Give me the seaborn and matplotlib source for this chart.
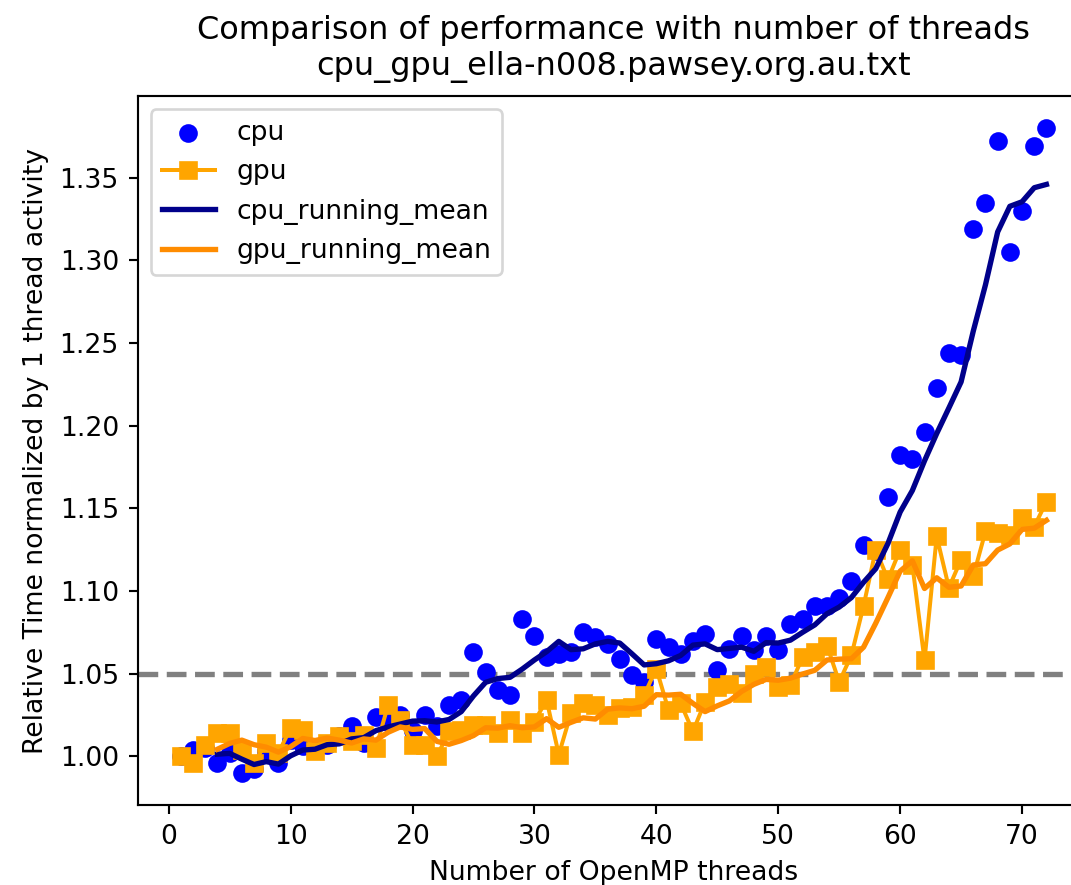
import matplotlib
matplotlib.use("Agg")
import matplotlib.pyplot as plt
import seaborn as sns
import numpy as np
import pandas as pd

threads = list(range(1, 73))

cpu = [1.000, 1.004, 1.005, 0.996, 1.002, 0.990, 0.992, 1.003, 0.996, 1.010,
       1.006, 1.005, 1.007, 1.012, 1.018, 1.008, 1.024, 1.021, 1.025, 1.015,
       1.025, 1.018, 1.031, 1.034, 1.063, 1.051, 1.040, 1.037, 1.083, 1.073,
       1.060, 1.062, 1.063, 1.075, 1.072, 1.068, 1.059, 1.049, 1.045, 1.071,
       1.066, 1.062, 1.070, 1.074, 1.052, 1.065, 1.073, 1.064, 1.073, 1.064,
       1.080, 1.083, 1.091, 1.091, 1.096, 1.106, 1.128, 1.124, 1.157, 1.182,
       1.180, 1.196, 1.223, 1.244, 1.243, 1.319, 1.335, 1.372, 1.305, 1.330,
       1.369, 1.380]

gpu = [1.000, 0.996, 1.007, 1.014, 1.014, 1.004, 0.996, 1.008, 1.002, 1.017,
       1.016, 1.003, 1.008, 1.012, 1.009, 1.013, 1.005, 1.031, 1.022, 1.007,
       1.007, 1.000, 1.015, 1.016, 1.019, 1.019, 1.014, 1.022, 1.014, 1.021,
       1.034, 1.001, 1.026, 1.032, 1.031, 1.025, 1.029, 1.030, 1.037, 1.053,
       1.028, 1.032, 1.015, 1.033, 1.042, 1.044, 1.038, 1.050, 1.054, 1.042,
       1.043, 1.060, 1.063, 1.067, 1.045, 1.061, 1.091, 1.125, 1.107, 1.125,
       1.116, 1.058, 1.133, 1.102, 1.119, 1.109, 1.136, 1.135, 1.134, 1.144,
       1.139, 1.154]

reference_level = 1.05
running_window = 4

title_text = "Comparison of performance with number of threads\ncpu_gpu_ella-n008.pawsey.org.au.txt"
xlabel_text = "Number of OpenMP threads"
ylabel_text = "Relative Time normalized by 1 thread activity"

df = pd.DataFrame({"threads": threads, "cpu": cpu, "gpu": gpu})
df["cpu_running_mean"] = df["cpu"].rolling(running_window).mean()
df["gpu_running_mean"] = df["gpu"].rolling(running_window).mean()

W, H, DPI = 1071, 885, 192
fig = plt.figure(figsize=(W / DPI, H / DPI), dpi=DPI)
left, right, top, bottom = 137.6, 1089.7, 96, 805
ax = fig.add_axes([left / W, (H - bottom) / H, (right - left) / W, (bottom - top) / H])

sns.scatterplot(data=df, x="threads", y="cpu", ax=ax, color="blue", s=36,
                edgecolor="blue", linewidth=1, label="cpu", zorder=3)
sns.lineplot(data=df, x="threads", y="gpu", ax=ax, color="orange", marker="s",
             markersize=6, markeredgecolor="orange", markeredgewidth=1,
             linewidth=1.5, label="gpu", zorder=3)
sns.lineplot(data=df.dropna(), x="threads", y="cpu_running_mean", ax=ax,
             color="darkblue", linewidth=2, label="cpu_running_mean", zorder=4)
sns.lineplot(data=df.dropna(), x="threads", y="gpu_running_mean", ax=ax,
             color="darkorange", linewidth=2, label="gpu_running_mean", zorder=4)

ax.axhline(reference_level, color="gray", linestyle="--", linewidth=2, zorder=2)

ax.set_title(title_text, fontsize=12, pad=8)
ax.set_xlabel(xlabel_text)
ax.set_ylabel(ylabel_text)
ax.set_xticks([0, 10, 20, 30, 40, 50, 60, 70])
ax.legend(loc="upper left")

fig.savefig("out.png", dpi=DPI)
